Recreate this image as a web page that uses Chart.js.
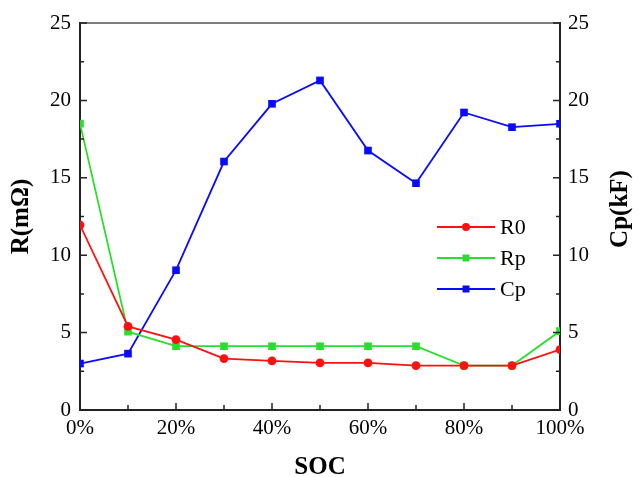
<!DOCTYPE html>
<html>
<head>
<meta charset="utf-8">
<script src="https://cdn.jsdelivr.net/npm/chart.js@4.4.1/dist/chart.umd.min.js"></script>
<style>
html,body{margin:0;padding:0;background:#fff;}
#wrap{width:638px;height:477px;}
</style>
</head>
<body>
<div id="wrap"><canvas id="c" width="638" height="477"></canvas></div>
<script>
const socLevels = [0, 10, 20, 30, 40, 50, 60, 70, 80, 90, 100];
const r0Values = [11.95, 5.4, 4.55, 3.32, 3.17, 3.04, 3.04, 2.87, 2.87, 2.87, 3.9];
const rpValues = [18.5, 5.06, 4.12, 4.12, 4.12, 4.12, 4.12, 4.12, 2.87, 2.87, 5.1];
const cpValues = [3.0, 3.64, 9.03, 16.05, 19.78, 21.29, 16.76, 14.65, 19.22, 18.27, 18.49];
const leftTicks = [0, 5, 10, 15, 20, 25];
const xTickLabels = ['0%', '20%', '40%', '60%', '80%', '100%'];

const SERIF = '"Liberation Serif", "Times New Roman", serif';
const AXIS = '#222222';

function pts(vals){ return socLevels.map((s,i)=>({x:s, y:vals[i]})); }

const ticksPlugin = {
  id: 'ticksPlugin',
  afterDraw(chart){
    const ctx = chart.ctx;
    const a = chart.chartArea;
    const sx = chart.scales.x, sy = chart.scales.y, sy1 = chart.scales.y1;
    ctx.save();
    ctx.lineWidth = 1.5;
    // top border
    ctx.beginPath();
    ctx.strokeStyle = '#555';
    ctx.moveTo(a.left, a.top); ctx.lineTo(a.right, a.top);
    ctx.stroke();
    ctx.strokeStyle = AXIS;
    // y ticks (inward)
    for (let v = 0; v <= 25; v += 2.5) {
      const major = Math.abs(v % 5) < 1e-6;
      const len = major ? 7 : 4;
      const yl = sy.getPixelForValue(v);
      const yr = sy1.getPixelForValue(v);
      ctx.beginPath();
      ctx.moveTo(a.left, yl); ctx.lineTo(a.left + len, yl);
      ctx.moveTo(a.right, yr); ctx.lineTo(a.right - len, yr);
      ctx.stroke();
    }
    // x ticks (inward)
    for (let v = 0; v <= 100; v += 10) {
      const major = v % 20 === 0;
      const len = major ? 7 : 5;
      const x = sx.getPixelForValue(v);
      ctx.beginPath();
      ctx.moveTo(x, a.bottom); ctx.lineTo(x, a.bottom - len);
      ctx.stroke();
    }
    // right axis title (reads bottom to top)
    ctx.save();
    ctx.translate(621, 209);
    ctx.rotate(-Math.PI/2);
    ctx.font = 'bold 25px ' + SERIF;
    ctx.fillStyle = '#000';
    ctx.textAlign = 'center';
    ctx.textBaseline = 'middle';
    ctx.fillText(sy1.options.title.text, 0, 0);
    ctx.restore();
    // legend
    const ds = chart.data.datasets;
    const rowY = [227, 258, 289];
    ds.forEach((d, i) => {
      const y = rowY[i];
      ctx.strokeStyle = d.borderColor;
      ctx.lineWidth = 2;
      ctx.beginPath();
      ctx.moveTo(437, y); ctx.lineTo(495, y);
      ctx.stroke();
      ctx.fillStyle = d.backgroundColor;
      if (d.pointStyle === 'circle') {
        ctx.beginPath(); ctx.arc(466, y, 4, 0, Math.PI*2); ctx.fill();
      } else {
        ctx.fillRect(466 - 3.5, y - 3.5, 7, 7);
      }
      ctx.fillStyle = '#000';
      ctx.font = '22px ' + SERIF;
      ctx.textAlign = 'left';
      ctx.textBaseline = 'middle';
      ctx.fillText(d.label, 500, y + 1);
    });
    ctx.restore();
  }
};

const RED = '#ff1010', GREEN = '#2ddd2d', BLUE = '#0a0aff';

new Chart(document.getElementById('c'), {
  type: 'line',
  data: {
    datasets: [
      {label:'R0', data: pts(r0Values), yAxisID:'y', borderColor: RED, backgroundColor: RED, pointStyle:'circle', pointRadius:4.4, borderWidth:1.8, pointBorderWidth:0},
      {label:'Rp', data: pts(rpValues), yAxisID:'y', borderColor: GREEN, backgroundColor: GREEN, pointStyle:'rect', pointRadius:5.4, borderWidth:1.8, pointBorderWidth:0},
      {label:'Cp', data: pts(cpValues), yAxisID:'y1', borderColor: BLUE, backgroundColor: BLUE, pointStyle:'rect', pointRadius:5.4, borderWidth:1.8, pointBorderWidth:0}
    ]
  },
  options: {
    responsive: false,
    animation: false,
    devicePixelRatio: 1,
    layout: { padding: { top: 23, left: 0, right: 0, bottom: 0 } },
    plugins: { legend: { display: false }, tooltip: { enabled: false } },
    elements: { line: { tension: 0 } },
    scales: {
      x: {
        type: 'linear', min: 0, max: 100,
        grid: { display: false, drawTicks: false },
        border: { display: true, color: AXIS, width: 2 },
        ticks: {
          stepSize: 10, autoSkip: false, maxRotation: 0, padding: 6,
          color: '#000', font: { family: SERIF, size: 21 },
          callback: (v) => { const i = xTickLabels.indexOf(v + '%'); return (v % 20 === 0 && i >= 0) ? xTickLabels[i] : ''; }
        },
        title: { display: true, text: 'SOC', color: '#000', font: { family: SERIF, size: 25, weight: 'bold', lineHeight: 1 }, padding: { top: 0, bottom: -3 } },
        afterFit: (s) => { s.height = 67; }
      },
      y: {
        position: 'left', min: 0, max: 25,
        grid: { display: false, drawTicks: false },
        border: { display: true, color: AXIS, width: 2 },
        ticks: { stepSize: 5, padding: 9, color: '#000', font: { family: SERIF, size: 21 },
          callback: (v) => leftTicks.includes(v) ? String(v) : '' },
        title: { display: true, text: 'R(mΩ)', color: '#000', font: { family: SERIF, size: 25, weight: 'bold', lineHeight: 1 }, padding: { top: 9, bottom: 0 } },
        afterFit: (s) => { s.width = 80; }
      },
      y1: {
        position: 'right', min: 0, max: 25,
        grid: { display: false, drawTicks: false },
        border: { display: true, color: AXIS, width: 2 },
        ticks: { stepSize: 5, padding: 8, color: '#000', font: { family: SERIF, size: 21 },
          callback: (v) => leftTicks.includes(v) ? String(v) : '' },
        title: { display: false, text: 'Cp(kF)' },
        afterFit: (s) => { s.width = 78; }
      }
    }
  },
  plugins: [ticksPlugin]
});
</script>
</body>
</html>
